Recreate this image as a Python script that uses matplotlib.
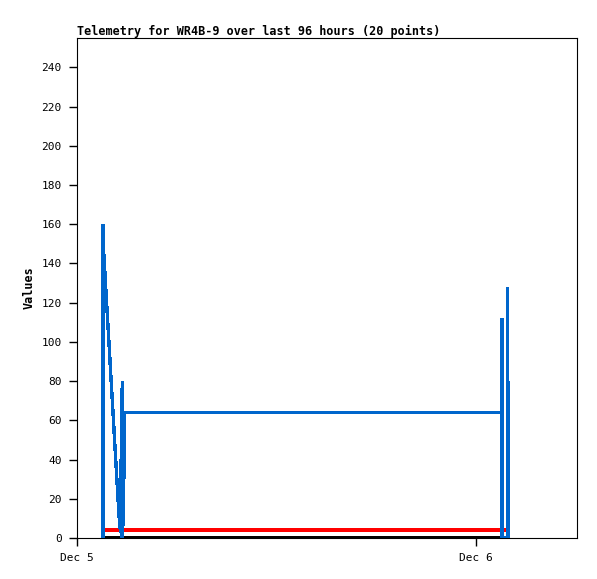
import matplotlib
matplotlib.use("Agg")
import matplotlib.pyplot as plt

# Data: hours since Dec 5 00:00
blue_t = [1.56, 1.565, 1.58, 1.61, 2.50, 2.58, 2.62, 2.66, 2.72, 2.74, 2.82, 2.86,
          25.56, 25.565, 25.57, 25.89, 25.895, 25.90, 25.96, 25.965]
blue_v = [0, 160, 137, 145, 15, 5, 40, 0, 80, 0, 32, 64,
          64, 112, 0, 0, 128, 0, 80, 0]
red_t = [1.50, 25.86]
red_v = [4, 4]
black_t = [1.50, 25.98]
black_v = [0, 0]
x_tick_pos = [0, 24]
x_tick_labels = ["Dec 5", "Dec 6"]
y_ticks = list(range(0, 241, 20))
title = "Telemetry for WR4B-9 over last 96 hours (20 points)"

fig = plt.figure(figsize=(5.97, 5.79), dpi=100)
ax = fig.add_axes([77/597, 41/579, 500/597, 500/579])
mono = "DejaVu Sans Mono"

ax.plot(black_t, black_v, color="black", lw=1.5, antialiased=False, zorder=3,
        solid_capstyle="butt")
ax.plot(red_t, red_v, color="#ff0000", lw=1.7, antialiased=False, zorder=2,
        solid_capstyle="butt")
ax.plot(blue_t, blue_v, color="#0066cc", lw=1.7, antialiased=False, zorder=4,
        solid_capstyle="butt", solid_joinstyle="miter")

ax.set_xlim(0, 30.07)
ax.set_ylim(0, 255)
ax.set_xticks(x_tick_pos)
ax.set_xticklabels(x_tick_labels)
ax.set_yticks(y_ticks)
ax.tick_params(axis="both", direction="out", length=6, width=1, labelsize=8, pad=5)
for lab in ax.get_xticklabels() + ax.get_yticklabels():
    lab.set_fontfamily(mono)
for s in ax.spines.values():
    s.set_linewidth(0.8)
ax.set_ylabel("Values", fontfamily=mono, fontweight="bold", fontsize=8.5, labelpad=4)
ax.set_title(title, loc="left", fontfamily=mono, fontweight="bold", fontsize=8.5, pad=2)

fig.savefig("out.png", dpi=100)
